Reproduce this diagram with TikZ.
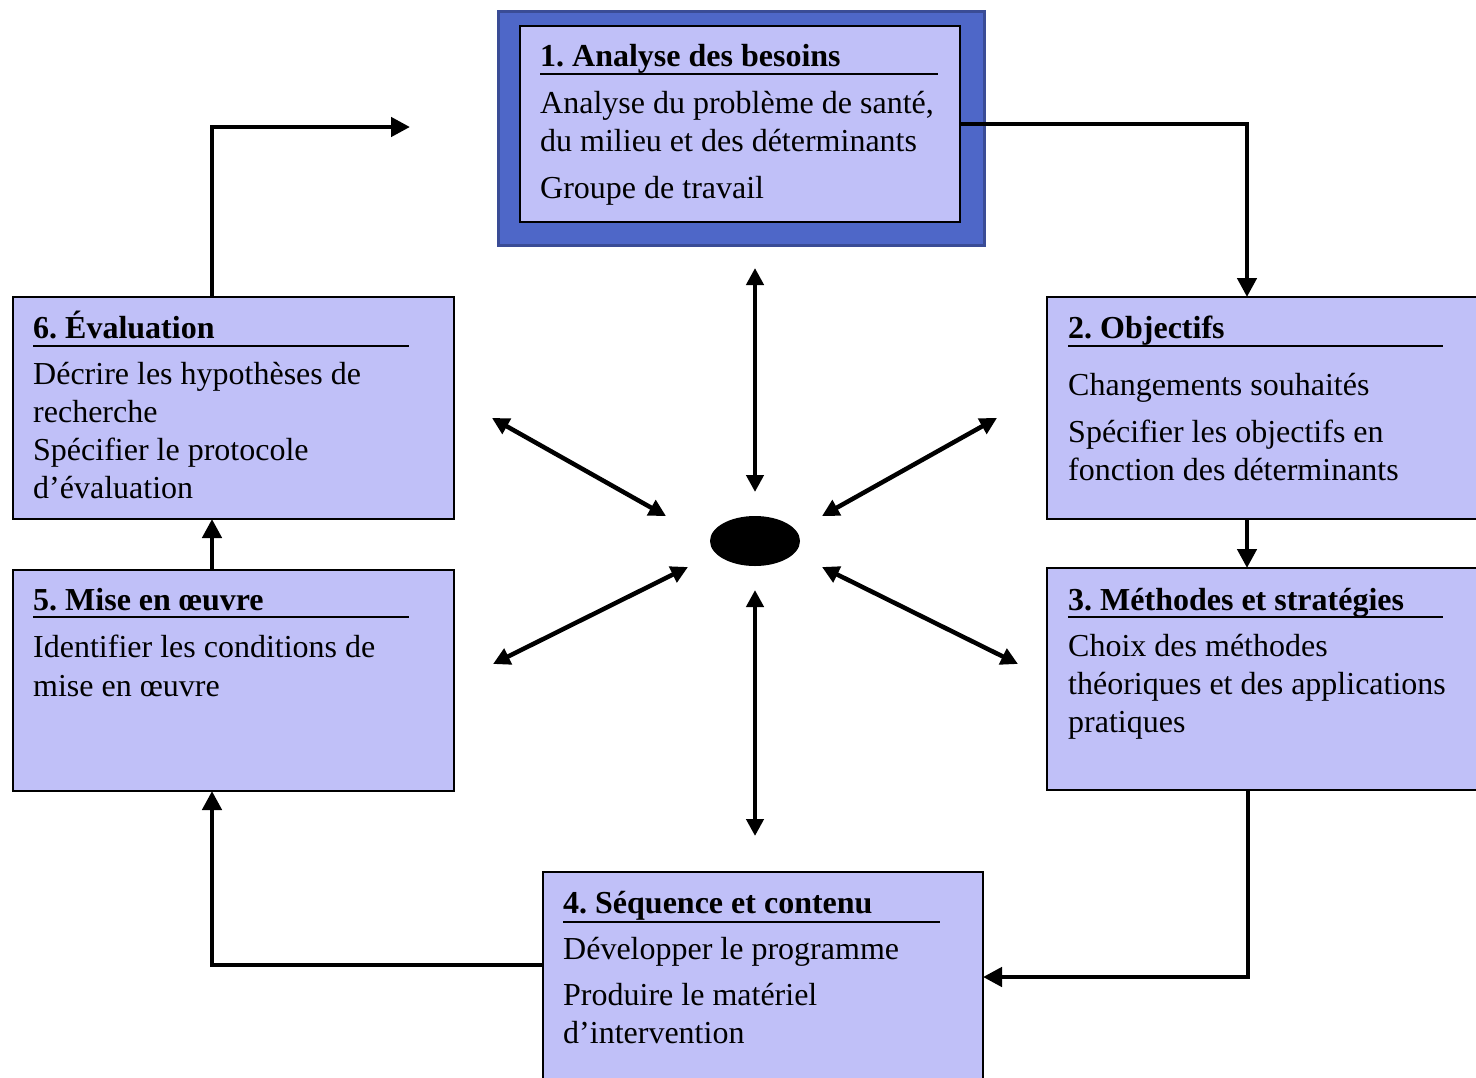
\documentclass[tikz,border=0pt]{standalone}
\usepackage{fontspec}
\setmainfont{Liberation Serif}
\usetikzlibrary{arrows.meta,shapes.geometric}
\definecolor{lav}{RGB}{192,192,248}
\definecolor{frameblue}{RGB}{78,103,200}
\definecolor{frameedge}{RGB}{58,76,150}
\frenchspacing
\begin{document}
\begin{tikzpicture}[x=1pt,y=-1pt,
 boxstyle/.style={draw=black,line width=2pt,fill=lav,anchor=north west,inner sep=0pt,outer sep=0pt},
 txt/.style={anchor=base west,inner sep=0pt,font=\fontsize{32}{38}\selectfont},
 ttl/.style={anchor=base west,inner sep=0pt,font=\fontsize{32}{38}\selectfont\bfseries},
 uline/.style={line width=2pt},
 conn/.style={line width=4.5pt,-{Triangle[length=19pt,width=19pt]}},
 star/.style={line width=4.5pt,{Triangle[length=17pt,width=17pt]}-{Triangle[length=17pt,width=17pt]}}]
\useasboundingbox (0,0) rectangle (1476,1077);
\clip (0,0) rectangle (1476,1077);
% Box 1
\node[draw=frameedge,line width=3pt,fill=frameblue,anchor=north west,inner sep=0pt,minimum width=486pt,minimum height=234pt] (b1o) at (497,10) {};
\node[boxstyle,minimum width=440pt,minimum height=196pt] (b1) at (520,26) {};
\node[ttl] (t1) at (540,66) {1. Analyse des besoins};
\draw[uline] (540,74) -- (938,74);
\node[txt] (t1a) at (540,113) {Analyse du problème de santé,};
\node[txt] (t1b) at (540,151) {du milieu et des déterminants};
\node[txt] (t1c) at (540,198) {Groupe de travail};
% Box 2
\node[boxstyle,minimum width=434pt,minimum height=222pt] (b2) at (1047,297) {};
\node[ttl] (t2) at (1068,338) {2. Objectifs};
\draw[uline] (1068,346) -- (1443,346);
\node[txt] (t2a) at (1068,395) {Changements souhaités};
\node[txt] (t2b) at (1068,442) {Spécifier les objectifs en};
\node[txt] (t2c) at (1068,480) {fonction des déterminants};
% Box 3
\node[boxstyle,minimum width=434pt,minimum height=222pt] (b3) at (1047,568) {};
\node[ttl] (t3) at (1068,610) {3. Méthodes et stratégies};
\draw[uline] (1068,617) -- (1443,617);
\node[txt] (t3a) at (1068,656) {Choix des méthodes};
\node[txt] (t3b) at (1068,694) {théoriques et des applications};
\node[txt] (t3c) at (1068,732) {pratiques};
% Box 4
\node[boxstyle,minimum width=440pt,minimum height=214pt] (b4) at (543,872) {};
\node[ttl] (t4) at (563,913) {4. Séquence et contenu};
\draw[uline] (563,922) -- (940,922);
\node[txt] (t4a) at (563,959) {Développer le programme};
\node[txt] (t4b) at (563,1005) {Produire le matériel};
\node[txt] (t4c) at (563,1043) {d’intervention};
% Box 5
\node[boxstyle,minimum width=441pt,minimum height=221pt] (b5) at (13,570) {};
\node[ttl] (t5) at (33,610) {5. Mise en œuvre};
\draw[uline] (33,617) -- (409,617);
\node[txt] (t5a) at (33,657) {Identifier les conditions de};
\node[txt] (t5b) at (33,696) {mise en œuvre};
% Box 6
\node[boxstyle,minimum width=441pt,minimum height=222pt] (b6) at (13,297) {};
\node[ttl] (t6) at (33,338) {6. Évaluation};
\draw[uline] (33,346) -- (409,346);
\node[txt] (t6a) at (33,384) {Décrire les hypothèses de};
\node[txt] (t6b) at (33,422) {recherche};
\node[txt] (t6c) at (33,460) {Spécifier le protocole};
\node[txt] (t6d) at (33,498) {d’évaluation};
% cycle connectors
\draw[conn] (b1.east) -| ([xshift=-17pt]b2.north);
\draw[conn] ([xshift=-17pt]b2.south) -- ([xshift=-17pt]b3.north);
\draw[conn] ([xshift=-16pt]b3.south) |- ([yshift=2pt]b4.east);
\draw[conn] ([yshift=14pt]b4.west) -| ([xshift=-21.5pt]b5.south);
\draw[conn] ([xshift=-21.5pt]b5.north) -- ([xshift=-21.5pt]b6.south);
\coordinate (free) at (410,127);
\draw[conn] ([xshift=-21.5pt]b6.north) |- (free);
% centre
\node[ellipse,fill=black,minimum width=90pt,minimum height=50pt,inner sep=0pt] (c) at (755,541) {};
\coordinate (u1) at (755,268); \coordinate (u2) at (755,492);
\coordinate (d1) at (755,590); \coordinate (d2) at (755,836);
\coordinate (ul1) at (492,418); \coordinate (ul2) at (666,516);
\coordinate (ur1) at (997,418); \coordinate (ur2) at (822,516);
\coordinate (ll1) at (493,664); \coordinate (ll2) at (688,567);
\coordinate (lr1) at (1018,664); \coordinate (lr2) at (822,567);
\draw[star] (u1) -- (u2);
\draw[star] (d1) -- (d2);
\draw[star] (ul1) -- (ul2);
\draw[star] (ur1) -- (ur2);
\draw[star] (ll1) -- (ll2);
\draw[star] (lr1) -- (lr2);
\end{tikzpicture}
\end{document}
